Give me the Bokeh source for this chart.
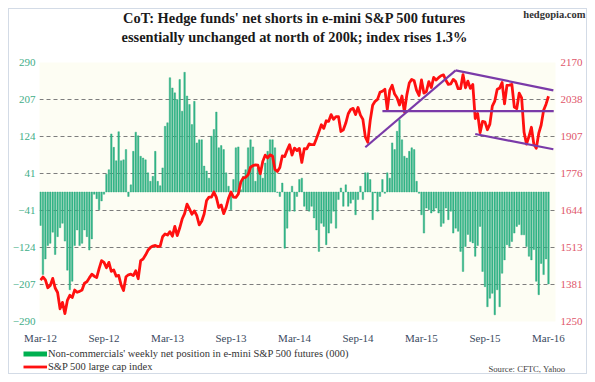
import pandas as pd
from bokeh.plotting import figure
from bokeh.layouts import column
from bokeh.models import (Range1d, LinearAxis, FixedTicker, DatetimeTickFormatter,
                          Label, Legend, LegendItem, ColumnDataSource, Plot)
from bokeh.embed import file_html
from bokeh.resources import INLINE

# ---------------- data ----------------
start_date = "2012-03-20"   # first weekly CoT observation (Tuesdays)

net_position = [
    -75, -185, -150, -120, -115, -90, -140, -100, -80, -70,
    -110, -175, -219, -200, -120, -85, -120, -115, -85, -100,
    -130, -105, -5, -15, -40, -20, -5, 40, 50, 130,
    100, 70, 135, 70, 72, 95, -10, 16, 91, 134,
    126, 80, 76, 72, 43, 24, 35, 91, 24, 14,
    54, 147, 155, 256, 233, 222, 207, 252, 181, 268,
    215, 196, 151, 203, 110, 117, 117, 58, 47, 31,
    125, 140, 179, 99, 104, 95, 43, 13, -40, 28,
    99, 101, 5, 35, 50, 99, 117, 101, 24, 54,
    50, 31, 65, 91, 117, 117, 99, -1, -10, 20,
    -126, -81, -43, 13, -43, -10, 28, 31, -32, -40,
    -43, -32, -58, -85, -133, -70, -77, -118, -92, -70,
    -43, -81, -17, 9, -32, 16, -32, -25, -17, -51,
    -17, 13, -17, 43, 43, 28, -62, -2, -43, -10,
    28, -3, 43, 31, 110, 95, 136, 162, 117, 80,
    76, 91, 99, 95, 24, -3, -51, -92, -36, -40,
    -47, -43, -36, -47, -77, -70, -36, -62, -43, -92,
    -81, -88, -133, -178, -122, -95, -111, -114, -144, -120,
    -77, -178, -212, -257, -238, -227, -275, -219, -257, -182,
    -152, -118, -122, -111, -92, -77, -73, -96, -96, -122,
    -144, -152, -129, -200, -230, -160, -185, -150, -206,
]

sp500 = [
    # 2012
    1397, 1408, 1398, 1370, 1378, 1403, 1369, 1353, 1295, 1318,
    1278, 1325, 1343, 1335, 1362, 1354, 1357, 1362, 1386, 1391,
    1405, 1418, 1411, 1406, 1438, 1466, 1460, 1441, 1460, 1428,
    1433, 1411, 1414, 1380, 1360, 1409, 1416, 1418, 1413, 1430, 1402,
    # 2013
    1466, 1472, 1486, 1503, 1513, 1518, 1520, 1516, 1518, 1551,
    1561, 1557, 1569, 1553, 1588, 1555, 1582, 1614, 1633, 1667,
    1650, 1631, 1643, 1626, 1593, 1606, 1632, 1680, 1692, 1692,
    1710, 1691, 1655, 1664, 1633, 1655, 1688, 1710, 1692, 1691,
    1703, 1745, 1760, 1762, 1771, 1798, 1804, 1806, 1805, 1775,
    1818, 1841,
    # 2014
    1831, 1842, 1838, 1790, 1783, 1797, 1838, 1836, 1859, 1878,
    1841, 1866, 1857, 1865, 1815, 1864, 1863, 1881, 1878, 1878,
    1900, 1924, 1949, 1936, 1963, 1961, 1985, 1968, 1978, 1978,
    1925, 1931, 1955, 1988, 2003, 2007, 1985, 2010, 1983, 1968,
    1906, 1887, 1964, 2018, 2032, 2039, 2064, 2068, 2075, 2003,
    2071, 2089,
    # 2015
    2058, 2045, 2019, 2051, 1995, 2055, 2097, 2110, 2105, 2071,
    2053, 2108, 2061, 2067, 2102, 2081, 2117, 2108, 2116, 2123,
    2126, 2107, 2092, 2094, 2110, 2102, 2077, 2077, 2127, 2080,
    2104, 2078, 2092, 1971, 1989, 1921, 1961, 1958, 1931, 1951,
    2015, 2033, 2075, 2079, 2099, 2023, 2089, 2090, 2092, 2012,
    2006, 2061, 2044,
    # 2016
    1922, 1880, 1907, 1940, 1880, 1865, 1918, 1948, 2000, 2022, 2050,
]

left_ticks = [-290, -207, -124, -41, 41, 124, 207, 290]
right_ticks = [1250, 1381, 1513, 1644, 1776, 1907, 2038, 2170]
x_tick_labels = ["Mar-12", "Sep-12", "Mar-13", "Sep-13", "Mar-14",
                 "Sep-14", "Mar-15", "Sep-15", "Mar-16"]

# hand-drawn trend lines on the S&P 500 (dates, index levels)
trend_rise_dates = ["2014-10-07", "2015-06-23"]
trend_rise_vals = [1869, 2142]
trend_top_dates = ["2015-06-23", "2016-03-29"]
trend_top_vals = [2142, 2071]
trend_mid_dates = ["2014-11-25", "2016-03-30"]
trend_mid_vals = [1997, 1997]
trend_low_dates = ["2015-08-18", "2016-03-29"]
trend_low_vals = [1916, 1862]

title_line1 = "CoT: Hedge funds' net shorts in e-mini S&P 500 futures"
title_line2 = "essentially unchanged at north of 200k; index rises 1.3%"
legend_bar = "Non-commercials' weekly net position in e-mini S&P 500 futures (000)"
legend_line = "S&P 500 large cap index"
source_text = "Source: CFTC, Yahoo"
brand_text = "hedgopia.com"

# ---------------- styling constants ----------------
SERIF = "Liberation Serif"
W = 577
BAR_COLOR = "#34b889"
LEGEND_GREEN = "#00b050"
RED = "#ff1010"
PURPLE = "#7a3aa8"
HAS_FRAME_ALIGN = "frame_align" in Plot.properties()

dates = pd.date_range(start_date, periods=len(net_position), freq="7D")
WEEK = 7 * 24 * 3600 * 1000.0
ms = lambda d: pd.Timestamp(d).value / 1e6


def no_align(fig):
    if HAS_FRAME_ALIGN:
        fig.frame_align = False


def strip(height):
    s = figure(width=W, height=height, output_backend="svg", toolbar_location=None,
               x_range=Range1d(0, W), y_range=Range1d(0, height),
               x_axis_location=None, y_axis_location=None, min_border=0)
    s.grid.visible = False
    s.outline_line_color = None
    s.background_fill_color = "white"
    s.border_fill_color = "white"
    no_align(s)
    return s


def lab(fig, x, y, text, size, align="center", bold=False, color="#1a1a1a"):
    fig.add_layout(Label(x=x, y=y, text=text, text_align=align, text_baseline="middle",
                         text_font=SERIF, text_font_style="bold" if bold else "normal",
                         text_font_size=size, text_color=color))


# ---------------- top strip: titles ----------------
top = strip(45)
lab(top, 285, 37, title_line1, "14.4px", bold=True)
lab(top, 285, 18, title_line2, "14.4px", bold=True)
lab(top, 576, 40, brand_text, "10.5px", align="right", bold=True, color="#333333")

# ---------------- main chart ----------------
src = ColumnDataSource(dict(date=dates, net=net_position, spx=sp500))

p = figure(width=W, height=292, output_backend="svg", toolbar_location=None,
           x_axis_type="datetime",
           x_range=Range1d(ms(dates[0]) - 0.41 * WEEK, ms(dates[-1]) + 2.87 * WEEK),
           y_range=Range1d(left_ticks[0], left_ticks[-1]),
           min_border_left=30, min_border_right=31, min_border_top=8, min_border_bottom=23)
no_align(p)
p.extra_y_ranges = {"spx": Range1d(right_ticks[0], right_ticks[-1])}
p.background_fill_color = "#fdfdf3"
p.border_fill_color = "white"
p.outline_line_color = None

p.vbar(x="date", top="net", bottom=0, width=0.62 * WEEK, source=src,
       fill_color=BAR_COLOR, line_color="#2aa57b", line_width=0.4)

spx_line = p.line(x="date", y="spx", source=src, y_range_name="spx",
                  line_color=RED, line_width=2.8, line_join="round")

for tds, tvs in [(trend_rise_dates, trend_rise_vals), (trend_top_dates, trend_top_vals),
                 (trend_mid_dates, trend_mid_vals), (trend_low_dates, trend_low_vals)]:
    p.line(x=pd.to_datetime(tds), y=tvs, y_range_name="spx",
           line_color=PURPLE, line_width=2.2)

xa = p.xaxis[0]
xa.ticker = FixedTicker(ticks=[ms(d) for d in dates[::26]])
fmt = "%b-%y"
xa.formatter = DatetimeTickFormatter(days=fmt, months=fmt, years=fmt)
xa.major_label_standoff = 10
xa.major_label_text_color = "#3b4a60"

ya = p.yaxis[0]
ya.ticker = FixedTicker(ticks=left_ticks)
ya.major_label_standoff = 4
ya.major_label_text_color = "#3fae88"

ra = LinearAxis(y_range_name="spx", ticker=FixedTicker(ticks=right_ticks))
ra.major_label_standoff = 5
ra.major_label_text_color = "#e0566a"
p.add_layout(ra, "right")

for ax in (xa, ya, ra):
    ax.axis_line_color = None
    ax.major_tick_line_color = None
    ax.minor_tick_line_color = None
    ax.major_tick_out = 0
    ax.major_tick_in = 0
    ax.minor_tick_out = 0
    ax.major_label_text_font = SERIF
    ax.major_label_text_font_size = "11px"

p.xgrid.grid_line_color = None
p.ygrid.ticker = FixedTicker(ticks=left_ticks)
p.ygrid.grid_line_color = "#7d7d7d"
p.ygrid.grid_line_dash = "4 3"
p.ygrid.grid_line_width = 1

# ---------------- bottom strip: legend + source ----------------
bot = strip(27)
proxy_src = ColumnDataSource(dict(x=[float("nan")], y=[float("nan")]))
g_proxy = bot.line(x="x", y="y", source=proxy_src, line_color=LEGEND_GREEN, line_width=5)
r_proxy = bot.line(x="x", y="y", source=proxy_src, line_color=RED, line_width=2.8)
legend = Legend(items=[LegendItem(label=legend_bar, renderers=[g_proxy]),
                       LegendItem(label=legend_line, renderers=[r_proxy])],
                location=(14, 0), orientation="vertical",
                glyph_width=24, glyph_height=13, label_height=13, spacing=0,
                padding=0, margin=0, label_standoff=1,
                border_line_color=None, background_fill_alpha=0,
                label_text_font=SERIF, label_text_font_size="10.5px",
                label_text_color="#333333")
bot.add_layout(legend)
lab(bot, 556, 5, source_text, "8.7px", align="right", color="#444444")

layout = column(top, p, bot, spacing=0,
                styles={"border": "1px solid #d3dbe6", "width": "fit-content",
                        "margin": "8px"})

open("out.html", "w").write(file_html(layout, INLINE))
